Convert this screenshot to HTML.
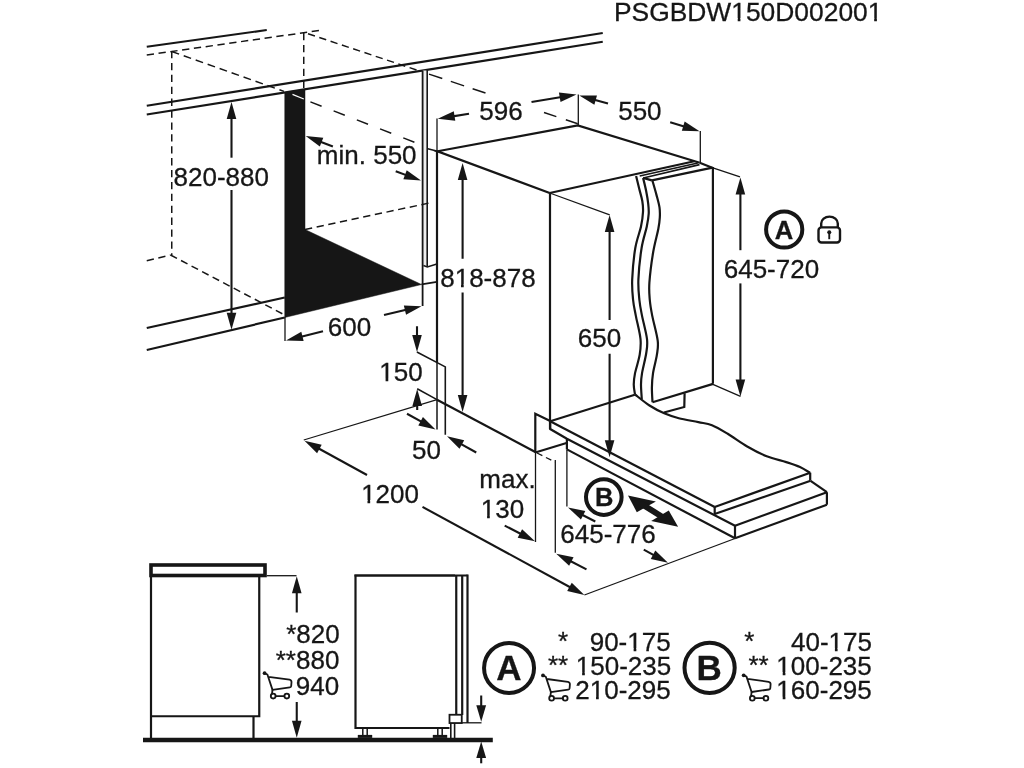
<!DOCTYPE html>
<html><head><meta charset="utf-8"><title>Installation diagram</title>
<style>
html,body{margin:0;padding:0;background:#fff;}
body{width:1024px;height:768px;overflow:hidden;}
svg{display:block;}
text{font-family:"Liberation Sans",sans-serif;fill:#161616;stroke:#161616;stroke-width:0.3px;}
svg{filter:grayscale(1);}
</style></head><body>
<svg width="1024" height="768" viewBox="0 0 1024 768">
<rect width="1024" height="768" fill="#fff"/>
<text x="748.2" y="20.6" font-size="26.4" text-anchor="middle" font-weight="normal" >PSGBDW150D002001</text>
<line x1="146.75" y1="46.75" x2="266.75" y2="30" stroke="#161616" stroke-width="2.2" stroke-linecap="butt"/>
<line x1="146.75" y1="55" x2="323" y2="30" stroke="#161616" stroke-width="1.5" stroke-linecap="butt" stroke-dasharray="7.3 4.6"/>
<line x1="171.75" y1="51" x2="171.75" y2="255" stroke="#161616" stroke-width="1.5" stroke-linecap="butt" stroke-dasharray="7.3 4.6"/>
<line x1="303.75" y1="33" x2="303.75" y2="88" stroke="#161616" stroke-width="1.5" stroke-linecap="butt" stroke-dasharray="7.3 4.6"/>
<line x1="171.75" y1="51.5" x2="284" y2="91.4" stroke="#161616" stroke-width="1.5" stroke-linecap="butt" stroke-dasharray="7.8 4.9"/>
<line x1="310.4" y1="101.9" x2="414.4" y2="142.2" stroke="#161616" stroke-width="1.5" stroke-linecap="butt" stroke-dasharray="12 12.9"/>
<line x1="308" y1="33.75" x2="420" y2="71.1" stroke="#161616" stroke-width="1.5" stroke-linecap="butt" stroke-dasharray="7.3 4.6"/>
<line x1="429" y1="74.1" x2="485.5" y2="93" stroke="#161616" stroke-width="1.5" stroke-linecap="butt" stroke-dasharray="14 9"/>
<line x1="544" y1="112.5" x2="577.75" y2="123.75" stroke="#161616" stroke-width="1.5" stroke-linecap="butt" stroke-dasharray="13 10"/>
<line x1="146.75" y1="105.75" x2="602.75" y2="33" stroke="#161616" stroke-width="2.2" stroke-linecap="butt"/>
<line x1="146.75" y1="114.5" x2="602.75" y2="41.75" stroke="#161616" stroke-width="2.2" stroke-linecap="butt"/>
<rect x="422.6" y="70.5" width="4.6" height="195" fill="#ededed"/>
<line x1="422.6" y1="70.5" x2="422.6" y2="306" stroke="#161616" stroke-width="1.8" stroke-linecap="butt"/>
<line x1="427.2" y1="69.7" x2="427.2" y2="266.5" stroke="#161616" stroke-width="1.6" stroke-linecap="butt"/>
<path d="M423.4,265.5 L427.3,266.9 L436.9,264.1" fill="none" stroke="#161616" stroke-width="1.6" stroke-linejoin="miter"/>
<path d="M284.75,92.5 L305,89.2 L305,229.5 L421.5,284.5 L284.75,317.5 Z" fill="#161616" stroke="#161616" stroke-width="0.5" stroke-linejoin="miter"/>
<line x1="292.5" y1="94.4" x2="303.8" y2="99" stroke="#fff" stroke-width="1.3" stroke-linecap="butt"/>
<line x1="305" y1="229.5" x2="431.5" y2="202.5" stroke="#161616" stroke-width="1.5" stroke-linecap="butt" stroke-dasharray="7.3 4.6"/>
<line x1="421.5" y1="284.4" x2="436.9" y2="281.9" stroke="#161616" stroke-width="1.8" stroke-linecap="butt"/>
<line x1="146.75" y1="328" x2="284.75" y2="297.5" stroke="#161616" stroke-width="2.2" stroke-linecap="butt"/>
<line x1="146.75" y1="350" x2="284.75" y2="317.5" stroke="#161616" stroke-width="2.2" stroke-linecap="butt"/>
<line x1="146.75" y1="260.75" x2="170.5" y2="255" stroke="#161616" stroke-width="1.5" stroke-linecap="butt" stroke-dasharray="7.3 4.6"/>
<line x1="170.5" y1="255" x2="284.75" y2="315" stroke="#161616" stroke-width="1.5" stroke-linecap="butt" stroke-dasharray="7.3 4.6"/>
<line x1="231.5" y1="157.7" x2="231.5" y2="115.6" stroke="#161616" stroke-width="2.1" stroke-linecap="butt"/>
<polygon points="231.50,102.00 236.30,119.00 226.70,119.00" fill="#161616"/>
<line x1="231.5" y1="190" x2="231.5" y2="316.2" stroke="#161616" stroke-width="2.1" stroke-linecap="butt"/>
<polygon points="231.50,329.80 226.70,312.80 236.30,312.80" fill="#161616"/>
<text x="221.3" y="185.7" font-size="26" text-anchor="middle" font-weight="normal" >820-880</text>
<text x="366.7" y="163.75" font-size="26" text-anchor="middle" font-weight="normal" >min. 550</text>
<line x1="332.9" y1="146.5" x2="318.39" y2="140.9" stroke="#161616" stroke-width="2.1" stroke-linecap="butt"/>
<polygon points="305.70,136.00 323.29,137.64 319.83,146.60" fill="#161616"/>
<line x1="395.7" y1="171.25" x2="408.24" y2="175.89" stroke="#161616" stroke-width="2.1" stroke-linecap="butt"/>
<polygon points="421.00,180.60 403.39,179.21 406.72,170.20" fill="#161616"/>
<text x="349.46" y="335.5" font-size="26" text-anchor="middle" font-weight="normal" >600</text>
<line x1="323" y1="331.25" x2="299.19" y2="337.2" stroke="#161616" stroke-width="2.1" stroke-linecap="butt"/>
<polygon points="286.00,340.50 301.33,331.72 303.66,341.03" fill="#161616"/>
<line x1="384" y1="315" x2="408.26" y2="309.34" stroke="#161616" stroke-width="2.1" stroke-linecap="butt"/>
<polygon points="421.50,306.25 406.04,314.79 403.85,305.44" fill="#161616"/>
<line x1="285" y1="317" x2="285" y2="341" stroke="#161616" stroke-width="1.3" stroke-linecap="butt"/>
<path d="M549.7,193 L437.5,151.25 L577.75,125.5 L699.7,162.75" fill="none" stroke="#161616" stroke-width="2.2" stroke-linejoin="miter"/>
<line x1="549.7" y1="193" x2="694.3" y2="161.2" stroke="#161616" stroke-width="2.2" stroke-linecap="butt"/>
<line x1="437" y1="151" x2="437" y2="362" stroke="#161616" stroke-width="2.2" stroke-linecap="butt"/>
<line x1="437" y1="362" x2="437" y2="429.5" stroke="#161616" stroke-width="1.5" stroke-linecap="butt"/>
<line x1="550" y1="193" x2="550" y2="429" stroke="#161616" stroke-width="2.2" stroke-linecap="butt"/>
<path d="M417.2,388.75 L437,399.7" fill="none" stroke="#161616" stroke-width="1.5" stroke-linejoin="miter"/>
<line x1="437" y1="399.7" x2="536.25" y2="452.5" stroke="#161616" stroke-width="2.2" stroke-linecap="butt"/>
<line x1="550.2" y1="421.25" x2="634.8" y2="394.7" stroke="#161616" stroke-width="2.2" stroke-linecap="butt"/>
<line x1="427.75" y1="148.75" x2="437.75" y2="151.25" stroke="#161616" stroke-width="1.3" stroke-linecap="butt"/>
<text x="501.0" y="120" font-size="26" text-anchor="middle" font-weight="normal" >596</text>
<line x1="469" y1="113.75" x2="451.18" y2="116.6" stroke="#161616" stroke-width="2.1" stroke-linecap="butt"/>
<polygon points="437.75,118.75 453.78,111.32 455.29,120.80" fill="#161616"/>
<line x1="531.5" y1="102" x2="563.09" y2="96.74" stroke="#161616" stroke-width="2.1" stroke-linecap="butt"/>
<polygon points="576.50,94.50 560.52,102.03 558.94,92.56" fill="#161616"/>
<line x1="437" y1="118.5" x2="437" y2="151" stroke="#161616" stroke-width="1.3" stroke-linecap="butt"/>
<line x1="578.3" y1="94.5" x2="578.3" y2="125.5" stroke="#161616" stroke-width="1.3" stroke-linecap="butt"/>
<text x="639.9" y="120.2" font-size="26" text-anchor="middle" font-weight="normal" >550</text>
<line x1="608" y1="103.6" x2="592.4" y2="99.25" stroke="#161616" stroke-width="2.1" stroke-linecap="butt"/>
<polygon points="579.30,95.60 596.96,95.54 594.39,104.79" fill="#161616"/>
<line x1="670.2" y1="122.2" x2="686.5" y2="127.21" stroke="#161616" stroke-width="2.1" stroke-linecap="butt"/>
<polygon points="699.50,131.20 681.84,130.80 684.66,121.62" fill="#161616"/>
<line x1="700.3" y1="131" x2="700.3" y2="162.7" stroke="#161616" stroke-width="1.3" stroke-linecap="butt"/>
<line x1="639.7" y1="176" x2="697.8" y2="162.9" stroke="#161616" stroke-width="1.5" stroke-linecap="butt"/>
<line x1="643.3" y1="178" x2="699.5" y2="164.6" stroke="#161616" stroke-width="1.6" stroke-linecap="butt"/>
<line x1="651.9" y1="180.4" x2="712.5" y2="167.6" stroke="#161616" stroke-width="2.2" stroke-linecap="butt"/>
<line x1="643.1" y1="177.9" x2="651.9" y2="180.4" stroke="#161616" stroke-width="2.2" stroke-linecap="butt"/>
<line x1="699.7" y1="162.75" x2="712.9" y2="167.9" stroke="#161616" stroke-width="2.2" stroke-linecap="butt"/>
<line x1="712.9" y1="167" x2="712.9" y2="383.75" stroke="#161616" stroke-width="2.2" stroke-linecap="butt"/>
<line x1="712.9" y1="167.9" x2="740" y2="176.8" stroke="#161616" stroke-width="1.3" stroke-linecap="butt"/>
<line x1="652.5" y1="402.3" x2="713.1" y2="383.9" stroke="#161616" stroke-width="2.2" stroke-linecap="butt"/>
<line x1="712.9" y1="384.3" x2="740.5" y2="396.4" stroke="#161616" stroke-width="1.3" stroke-linecap="butt"/>
<path d="M636.10,175.90 C636.60,177.97 638.07,184.12 639.10,188.30 C640.13,192.48 641.65,197.05 642.30,201.00 C642.95,204.95 643.22,207.75 643.00,212.00 C642.78,216.25 642.28,220.50 641.00,226.50 C639.72,232.50 636.77,239.18 635.30,248.00 C633.83,256.82 632.57,270.73 632.20,279.40 C631.83,288.07 632.50,293.97 633.10,300.00 C633.70,306.03 634.57,309.10 635.80,315.60 C637.03,322.10 639.85,332.48 640.50,339.00 C641.15,345.52 640.62,348.97 639.70,354.70 C638.78,360.43 635.99,368.45 635.00,373.40 C634.01,378.35 633.75,380.88 633.75,384.40 C633.75,387.92 634.79,392.82 635.00,394.50" fill="none" stroke="#161616" stroke-width="2.2"/>
<path d="M643.10,177.90 C643.60,180.05 645.25,186.52 646.10,190.80 C646.95,195.08 647.77,199.77 648.20,203.60 C648.63,207.43 648.93,209.98 648.70,213.80 C648.47,217.62 647.98,220.80 646.80,226.50 C645.62,232.20 643.00,239.18 641.60,248.00 C640.20,256.82 638.77,270.73 638.40,279.40 C638.03,288.07 638.80,293.97 639.40,300.00 C640.00,306.03 640.73,309.10 642.00,315.60 C643.27,322.10 646.29,332.77 647.00,339.00 C647.71,345.23 647.08,347.27 646.25,353.00 C645.42,358.73 642.88,368.17 642.00,373.40 C641.12,378.63 641.03,380.08 641.00,384.40 C640.97,388.72 641.67,396.82 641.80,399.30" fill="none" stroke="#161616" stroke-width="2.2"/>
<path d="M652.40,180.50 C653.07,182.85 655.22,190.12 656.40,194.60 C657.58,199.08 658.93,203.57 659.50,207.40 C660.07,211.23 660.00,214.00 659.80,217.60 C659.60,221.20 659.40,223.27 658.30,229.00 C657.20,234.73 654.68,243.08 653.20,252.00 C651.72,260.92 649.97,274.50 649.40,282.50 C648.83,290.50 649.33,294.48 649.80,300.00 C650.27,305.52 650.88,308.83 652.20,315.60 C653.52,322.37 656.92,334.08 657.70,340.60 C658.48,347.12 657.68,349.23 656.90,354.70 C656.12,360.17 653.83,367.93 653.00,373.40 C652.17,378.87 651.98,382.68 651.90,387.50 C651.82,392.32 652.40,399.83 652.50,402.30" fill="none" stroke="#161616" stroke-width="2.2"/>
<path d="M684.6,393.2 L684.3,407 L663.9,412.5" fill="none" stroke="#161616" stroke-width="2.2" stroke-linejoin="miter"/>
<line x1="740.4" y1="250.2" x2="740.4" y2="191.2" stroke="#161616" stroke-width="2.1" stroke-linecap="butt"/>
<polygon points="740.40,177.60 745.20,194.60 735.60,194.60" fill="#161616"/>
<line x1="740.4" y1="283.4" x2="740.4" y2="383.0" stroke="#161616" stroke-width="2.1" stroke-linecap="butt"/>
<polygon points="740.40,396.60 735.60,379.60 745.20,379.60" fill="#161616"/>
<text x="771.44" y="277.5" font-size="26" text-anchor="middle" font-weight="normal" >645-720</text>
<line x1="549.7" y1="193" x2="609.7" y2="214.8" stroke="#161616" stroke-width="1.3" stroke-linecap="butt"/>
<line x1="609.6" y1="320" x2="609.6" y2="228.6" stroke="#161616" stroke-width="2.1" stroke-linecap="butt"/>
<polygon points="609.60,215.00 614.40,232.00 604.80,232.00" fill="#161616"/>
<line x1="609.6" y1="353.75" x2="609.6" y2="443.6" stroke="#161616" stroke-width="2.1" stroke-linecap="butt"/>
<polygon points="609.60,457.20 604.80,440.20 614.40,440.20" fill="#161616"/>
<text x="599.47" y="347" font-size="26" text-anchor="middle" font-weight="normal" >650</text>
<line x1="462.6" y1="258.75" x2="462.6" y2="176.6" stroke="#161616" stroke-width="2.1" stroke-linecap="butt"/>
<polygon points="462.60,163.00 467.40,180.00 457.80,180.00" fill="#161616"/>
<line x1="462.6" y1="292.5" x2="462.6" y2="398.4" stroke="#161616" stroke-width="2.1" stroke-linecap="butt"/>
<polygon points="462.60,412.00 457.80,395.00 467.40,395.00" fill="#161616"/>
<text x="487.94" y="286.6" font-size="26" text-anchor="middle" font-weight="normal" >818-878</text>
<text x="400.94" y="381.25" font-size="26" text-anchor="middle" font-weight="normal" >150</text>
<line x1="417" y1="326.25" x2="417.0" y2="338.4" stroke="#161616" stroke-width="2.1" stroke-linecap="butt"/>
<polygon points="417.00,352.00 412.20,335.00 421.80,335.00" fill="#161616"/>
<path d="M416.9,352 L445.3,366.9 L445.3,434.8" fill="none" stroke="#161616" stroke-width="1.6" stroke-linejoin="miter"/>
<line x1="417.2" y1="410" x2="417.2" y2="402.6" stroke="#161616" stroke-width="2.1" stroke-linecap="butt"/>
<polygon points="417.20,389.00 422.00,406.00 412.40,406.00" fill="#161616"/>
<text x="426.5" y="458.75" font-size="26" text-anchor="middle" font-weight="normal" >50</text>
<line x1="407" y1="413.75" x2="423.6" y2="422.92" stroke="#161616" stroke-width="2.1" stroke-linecap="butt"/>
<polygon points="435.50,429.50 418.30,425.48 422.94,417.08" fill="#161616"/>
<line x1="476.25" y1="452.5" x2="458.89" y2="442.85" stroke="#161616" stroke-width="2.1" stroke-linecap="butt"/>
<polygon points="447.00,436.25 464.19,440.31 459.53,448.70" fill="#161616"/>
<text x="390.06" y="502.5" font-size="26" text-anchor="middle" font-weight="normal" >1200</text>
<line x1="437" y1="399.7" x2="303.75" y2="440" stroke="#161616" stroke-width="1.3" stroke-linecap="butt"/>
<line x1="367" y1="475" x2="316.43" y2="447.29" stroke="#161616" stroke-width="2.1" stroke-linecap="butt"/>
<polygon points="304.50,440.75 321.71,444.71 317.10,453.13" fill="#161616"/>
<line x1="422.5" y1="506.9" x2="572.45" y2="588.5" stroke="#161616" stroke-width="2.1" stroke-linecap="butt"/>
<polygon points="584.40,595.00 567.17,591.09 571.76,582.66" fill="#161616"/>
<line x1="584.4" y1="595" x2="735" y2="538.5" stroke="#161616" stroke-width="1.3" stroke-linecap="butt"/>
<text x="507.5" y="487.5" font-size="26" text-anchor="middle" font-weight="normal" >max.</text>
<text x="502.44" y="518" font-size="26" text-anchor="middle" font-weight="normal" >130</text>
<line x1="504.7" y1="525.6" x2="522.92" y2="535.01" stroke="#161616" stroke-width="2.1" stroke-linecap="butt"/>
<polygon points="535.00,541.25 517.69,537.71 522.10,529.18" fill="#161616"/>
<line x1="535.5" y1="452.5" x2="535.5" y2="542" stroke="#161616" stroke-width="1.3" stroke-linecap="butt"/>
<path d="M535.3,452.5 L535.3,413.75 L550.2,421" fill="none" stroke="#161616" stroke-width="2.2" stroke-linejoin="miter"/>
<line x1="535.3" y1="452.5" x2="566.5" y2="443" stroke="#161616" stroke-width="2.2" stroke-linecap="butt"/>
<line x1="537" y1="453" x2="555" y2="462" stroke="#161616" stroke-width="1.3" stroke-linecap="butt" stroke-dasharray="6 4"/>
<line x1="555.3" y1="460" x2="555.3" y2="552.8" stroke="#161616" stroke-width="1.3" stroke-linecap="butt"/>
<line x1="586.5" y1="569.4" x2="568.33" y2="560.0" stroke="#161616" stroke-width="2.1" stroke-linecap="butt"/>
<polygon points="556.25,553.75 573.55,557.30 569.14,565.82" fill="#161616"/>
<line x1="550.2" y1="421.25" x2="714.7" y2="507" stroke="#161616" stroke-width="2.2" stroke-linecap="butt"/>
<path d="M550.2,421 L550.2,429 L566.9,438.75 L735,525.8" fill="none" stroke="#161616" stroke-width="2.2" stroke-linejoin="miter"/>
<line x1="566.9" y1="438.75" x2="566.9" y2="449.4" stroke="#161616" stroke-width="2.2" stroke-linecap="butt"/>
<line x1="566.9" y1="449.4" x2="735" y2="538.3" stroke="#161616" stroke-width="2.2" stroke-linecap="butt"/>
<line x1="566.9" y1="449.4" x2="566.9" y2="506.5" stroke="#161616" stroke-width="1.3" stroke-linecap="butt"/>
<line x1="595.3" y1="521.5" x2="580.1" y2="513.71" stroke="#161616" stroke-width="2.1" stroke-linecap="butt"/>
<polygon points="568.00,507.50 585.32,510.99 580.94,519.53" fill="#161616"/>
<line x1="714.7" y1="507" x2="810.2" y2="472.7" stroke="#161616" stroke-width="2.2" stroke-linecap="butt"/>
<line x1="714.7" y1="514" x2="810.6" y2="480.8" stroke="#161616" stroke-width="2.2" stroke-linecap="butt"/>
<line x1="714.7" y1="507" x2="714.7" y2="514" stroke="#161616" stroke-width="2.2" stroke-linecap="butt"/>
<line x1="810.2" y1="472.7" x2="810.2" y2="480.5" stroke="#161616" stroke-width="2.2" stroke-linecap="butt"/>
<line x1="810.6" y1="480.8" x2="826.9" y2="492.2" stroke="#161616" stroke-width="2.2" stroke-linecap="butt"/>
<line x1="735" y1="525.8" x2="826.9" y2="492.2" stroke="#161616" stroke-width="2.2" stroke-linecap="butt"/>
<line x1="735" y1="538.3" x2="826.9" y2="504.7" stroke="#161616" stroke-width="2.2" stroke-linecap="butt"/>
<line x1="735" y1="525.8" x2="735" y2="538.3" stroke="#161616" stroke-width="2.2" stroke-linecap="butt"/>
<line x1="826.9" y1="492.2" x2="826.9" y2="504.7" stroke="#161616" stroke-width="2.2" stroke-linecap="butt"/>
<path d="M635.00,394.50 C637.42,396.33 644.63,402.37 649.50,405.50 C654.37,408.63 659.32,411.18 664.20,413.30 C669.08,415.42 673.10,416.73 678.80,418.20 C684.50,419.67 692.87,420.93 698.40,422.10 C703.93,423.27 707.12,423.25 712.00,425.20 C716.88,427.15 721.83,430.25 727.70,433.80 C733.57,437.35 740.70,442.75 747.20,446.50 C753.70,450.25 760.19,453.70 766.70,456.30 C773.21,458.90 780.70,460.32 786.25,462.10 C791.80,463.88 796.01,465.20 800.00,467.00 C803.99,468.80 808.50,471.92 810.20,472.90" fill="none" stroke="#161616" stroke-width="2.2"/>
<circle cx="603.8" cy="497.1" r="17.8" fill="none" stroke="#161616" stroke-width="4"/>
<text x="604.3" y="505.7" font-size="25.5" text-anchor="middle" font-weight="bold" >B</text>
<polygon points="628,495.5 655.9,501.4 636.8,512.2" fill="#161616"/>
<polygon points="678.1,526.8 668.75,510.4 651.2,521" fill="#161616"/>
<line x1="640" y1="503" x2="666" y2="519.2" stroke="#161616" stroke-width="6" stroke-linecap="butt"/>
<text x="608.04" y="543.2" font-size="26" text-anchor="middle" font-weight="normal" >645-776</text>
<line x1="643.75" y1="549.7" x2="656.03" y2="556.34" stroke="#161616" stroke-width="2.1" stroke-linecap="butt"/>
<polygon points="668.00,562.80 650.76,558.94 655.32,550.50" fill="#161616"/>
<circle cx="784.2" cy="229.5" r="18.1" fill="none" stroke="#161616" stroke-width="4"/>
<text x="784.1" y="239" font-size="25.6" text-anchor="middle" font-weight="bold" >A</text>
<rect x="818.5" y="227.4" width="21.5" height="15.15" rx="3" fill="none" stroke="#161616" stroke-width="2.4"/>
<path d="M821.2,227.4 V223.6 A8.3,7 0 0 1 837.8,223.6 V227.4" fill="none" stroke="#161616" stroke-width="2.4"/>
<circle cx="829.25" cy="232.3" r="2" fill="#161616"/>
<line x1="829.25" y1="232" x2="829.25" y2="239.2" stroke="#161616" stroke-width="1.9" stroke-linecap="butt"/>
<rect x="151" y="565" width="114" height="10.5" fill="none" stroke="#161616" stroke-width="3.6"/>
<path d="M151,577 L151,738.5" fill="none" stroke="#161616" stroke-width="2.2" stroke-linejoin="miter"/>
<path d="M259.25,577 L259.25,716.25 L151,716.25" fill="none" stroke="#161616" stroke-width="2.2" stroke-linejoin="miter"/>
<line x1="253.5" y1="716.25" x2="253.5" y2="738.5" stroke="#161616" stroke-width="2.2" stroke-linecap="butt"/>
<line x1="143" y1="740" x2="492.8" y2="740" stroke="#161616" stroke-width="4.6" stroke-linecap="butt"/>
<line x1="266.75" y1="575.7" x2="296.5" y2="575.7" stroke="#161616" stroke-width="1.3" stroke-linecap="butt"/>
<line x1="296.75" y1="612.5" x2="296.75" y2="589.9" stroke="#161616" stroke-width="2.1" stroke-linecap="butt"/>
<polygon points="296.75,576.30 301.55,593.30 291.95,593.30" fill="#161616"/>
<line x1="296.75" y1="702" x2="296.75" y2="724.2" stroke="#161616" stroke-width="2.1" stroke-linecap="butt"/>
<polygon points="296.75,737.80 291.95,720.80 301.55,720.80" fill="#161616"/>
<text x="312.98" y="642.5" font-size="26" text-anchor="middle" font-weight="normal" >*820</text>
<text x="307.54" y="668.75" font-size="26" text-anchor="middle" font-weight="normal" >**880</text>
<text x="317.46" y="695" font-size="26" text-anchor="middle" font-weight="normal" >940</text>
<g transform="translate(264.6,673.2)" fill="none" stroke="#161616" stroke-width="1.8" stroke-linejoin="round" stroke-linecap="round"><circle cx="0" cy="0" r="1.9" fill="#161616" stroke="none"/><path d="M0,0 L2.8,1.3 L7.9,16.7 L25.2,14.2 Q26.5,14 26.6,12.8 L26.9,9 Q27,6.9 24.9,6.5 L3.9,3.6"/><path d="M7.9,16.7 L7.4,20.5"/><circle cx="8.6" cy="22.9" r="2.4"/><circle cx="22.2" cy="22.9" r="2.4"/><path d="M11,22.9 H19.8"/></g>
<path d="M455,575.5 L355.5,575.5 L355.5,728 L449.5,728" fill="none" stroke="#161616" stroke-width="2.2" stroke-linejoin="miter"/>
<line x1="354.5" y1="575.5" x2="467.5" y2="575.5" stroke="#161616" stroke-width="2.2" stroke-linecap="butt"/>
<line x1="456.25" y1="575.5" x2="456.25" y2="715" stroke="#161616" stroke-width="2.2" stroke-linecap="butt"/>
<line x1="462.2" y1="575.5" x2="462.2" y2="715" stroke="#161616" stroke-width="2.2" stroke-linecap="butt"/>
<line x1="467.5" y1="574.5" x2="467.5" y2="723" stroke="#161616" stroke-width="2.2" stroke-linecap="butt"/>
<rect x="449.5" y="714.75" width="12.25" height="8.3" fill="#fff" stroke="#161616" stroke-width="1.8"/>
<line x1="461.75" y1="722.8" x2="481.5" y2="722.8" stroke="#161616" stroke-width="1.3" stroke-linecap="butt"/>
<line x1="450.8" y1="723" x2="450.8" y2="738" stroke="#161616" stroke-width="1.6" stroke-linecap="butt"/>
<line x1="454.6" y1="723" x2="454.6" y2="738" stroke="#161616" stroke-width="1.6" stroke-linecap="butt"/>
<line x1="362.8" y1="728" x2="362.8" y2="737" stroke="#161616" stroke-width="1.5" stroke-linecap="butt"/>
<line x1="367.2" y1="728" x2="367.2" y2="737" stroke="#161616" stroke-width="1.5" stroke-linecap="butt"/>
<line x1="357.8" y1="736.4" x2="372.2" y2="736.4" stroke="#161616" stroke-width="3" stroke-linecap="butt"/>
<line x1="437.8" y1="728" x2="437.8" y2="737" stroke="#161616" stroke-width="1.5" stroke-linecap="butt"/>
<line x1="442.2" y1="728" x2="442.2" y2="737" stroke="#161616" stroke-width="1.5" stroke-linecap="butt"/>
<line x1="432.8" y1="736.4" x2="447.2" y2="736.4" stroke="#161616" stroke-width="3" stroke-linecap="butt"/>
<line x1="481.2" y1="695.5" x2="481.2" y2="708.6" stroke="#161616" stroke-width="2.1" stroke-linecap="butt"/>
<polygon points="481.20,721.80 476.30,705.30 486.10,705.30" fill="#161616"/>
<line x1="481.2" y1="763.3" x2="481.2" y2="754.8" stroke="#161616" stroke-width="2.1" stroke-linecap="butt"/>
<polygon points="481.20,741.60 486.10,758.10 476.30,758.10" fill="#161616"/>
<circle cx="509.05" cy="667.9" r="25" fill="none" stroke="#161616" stroke-width="4"/>
<text x="509.0" y="680.4" font-size="35" text-anchor="middle" font-weight="bold" >A</text>
<circle cx="709.6" cy="667.8" r="25.1" fill="none" stroke="#161616" stroke-width="4"/>
<text x="709.25" y="680.4" font-size="35" text-anchor="middle" font-weight="bold" >B</text>
<text x="630.2" y="650.7" font-size="26" text-anchor="middle" font-weight="normal" >90-175</text>
<text x="623.5" y="674.7" font-size="26" text-anchor="middle" font-weight="normal" >150-235</text>
<text x="622.97" y="699.25" font-size="26" text-anchor="middle" font-weight="normal" >210-295</text>
<text x="831.46" y="650.7" font-size="26" text-anchor="middle" font-weight="normal" >40-175</text>
<text x="824.07" y="674.7" font-size="26" text-anchor="middle" font-weight="normal" >100-235</text>
<text x="824.07" y="699.25" font-size="26" text-anchor="middle" font-weight="normal" >160-295</text>
<text x="563.1" y="649.6" font-size="26" text-anchor="middle" font-weight="normal" >*</text>
<text x="558" y="673.5" font-size="26" text-anchor="middle" font-weight="normal" >**</text>
<text x="749.2" y="649.6" font-size="26" text-anchor="middle" font-weight="normal" >*</text>
<text x="758.6" y="673.5" font-size="26" text-anchor="middle" font-weight="normal" >**</text>
<g transform="translate(543,675.4)" fill="none" stroke="#161616" stroke-width="1.8" stroke-linejoin="round" stroke-linecap="round"><circle cx="0" cy="0" r="1.9" fill="#161616" stroke="none"/><path d="M0,0 L2.8,1.3 L7.9,16.7 L25.2,14.2 Q26.5,14 26.6,12.8 L26.9,9 Q27,6.9 24.9,6.5 L3.9,3.6"/><path d="M7.9,16.7 L7.4,20.5"/><circle cx="8.6" cy="22.9" r="2.4"/><circle cx="22.2" cy="22.9" r="2.4"/><path d="M11,22.9 H19.8"/></g>
<g transform="translate(743.7,675.3)" fill="none" stroke="#161616" stroke-width="1.8" stroke-linejoin="round" stroke-linecap="round"><circle cx="0" cy="0" r="1.9" fill="#161616" stroke="none"/><path d="M0,0 L2.8,1.3 L7.9,16.7 L25.2,14.2 Q26.5,14 26.6,12.8 L26.9,9 Q27,6.9 24.9,6.5 L3.9,3.6"/><path d="M7.9,16.7 L7.4,20.5"/><circle cx="8.6" cy="22.9" r="2.4"/><circle cx="22.2" cy="22.9" r="2.4"/><path d="M11,22.9 H19.8"/></g>
<rect class="m" x="731.97" y="18.13" width="5.73" height="3.97" fill="#fff"/>
<rect class="m" x="740.43" y="18.13" width="5.62" height="3.97" fill="#fff"/>
<rect class="m" x="868.44" y="18.13" width="5.73" height="3.97" fill="#fff"/>
<rect class="m" x="876.9" y="18.13" width="5.62" height="3.97" fill="#fff"/>
<rect class="m" x="455.36" y="284.16" width="5.66" height="3.94" fill="#fff"/>
<rect class="m" x="463.72" y="284.16" width="5.55" height="3.94" fill="#fff"/>
<rect class="m" x="379.93" y="378.81" width="5.66" height="3.94" fill="#fff"/>
<rect class="m" x="388.28" y="378.81" width="5.55" height="3.94" fill="#fff"/>
<rect class="m" x="361.82" y="500.06" width="5.66" height="3.94" fill="#fff"/>
<rect class="m" x="370.17" y="500.06" width="5.55" height="3.94" fill="#fff"/>
<rect class="m" x="481.43" y="515.56" width="5.66" height="3.94" fill="#fff"/>
<rect class="m" x="489.78" y="515.56" width="5.55" height="3.94" fill="#fff"/>
<rect class="m" x="627.97" y="648.26" width="5.66" height="3.94" fill="#fff"/>
<rect class="m" x="636.33" y="648.26" width="5.55" height="3.94" fill="#fff"/>
<rect class="m" x="576.47" y="672.26" width="5.66" height="3.94" fill="#fff"/>
<rect class="m" x="584.83" y="672.26" width="5.55" height="3.94" fill="#fff"/>
<rect class="m" x="590.39" y="696.81" width="5.66" height="3.94" fill="#fff"/>
<rect class="m" x="598.75" y="696.81" width="5.55" height="3.94" fill="#fff"/>
<rect class="m" x="829.23" y="648.26" width="5.66" height="3.94" fill="#fff"/>
<rect class="m" x="837.59" y="648.26" width="5.55" height="3.94" fill="#fff"/>
<rect class="m" x="777.04" y="672.26" width="5.66" height="3.94" fill="#fff"/>
<rect class="m" x="785.4" y="672.26" width="5.55" height="3.94" fill="#fff"/>
<rect class="m" x="777.04" y="696.81" width="5.66" height="3.94" fill="#fff"/>
<rect class="m" x="785.4" y="696.81" width="5.55" height="3.94" fill="#fff"/>
</svg>
</body></html>
